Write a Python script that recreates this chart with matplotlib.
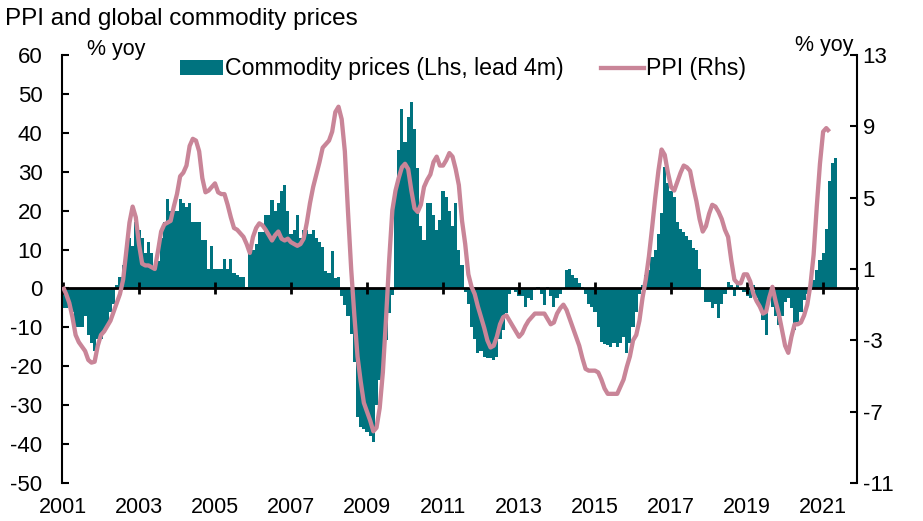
import matplotlib
matplotlib.use("Agg")
import matplotlib.pyplot as plt
from matplotlib.patches import Patch
from matplotlib.lines import Line2D
import numpy as np

plt.rcParams['font.family'] = ['Liberation Sans', 'DejaVu Sans']
plt.rcParams['axes.unicode_minus'] = False

# monthly data, Jan 2001 onward (bars are shifted 4m ahead already)
commodity = [
    -5, -5, -4, -6, -10, -10, -10, -7, -12, -14,
    -16, -13, -13, -11, -10, -6, -4, 1, 3, 6,
    9, 13, 11, 17, 15, 13, 9, 12, 9, 5,
    7, 13, 17, 23, 20, 20, 20, 23, 22, 21,
    22, 17, 17, 17, 12.5, 12.5, 5, 11, 5, 5,
    5, 7.5, 5, 7.5, 4, 3.5, 3, 3, 0.5, 9,
    10, 11.5, 14.5, 14.5, 19, 19, 22.7, 20, 22, 25,
    26.6, 20, 14, 15, 19, 13, 15, 15, 14, 15,
    13, 12, 10.7, 4.5, 4, 9.5, 2.6, 3, -2, -4.3,
    -7, -11.6, -19, -33, -35.5, -36, -37, -38, -39.5, -30,
    -23.5, -20.6, -13.3, -6.4, -1.7, 25, 35.6, 46, 37.7, 44,
    48, 41, 31, 16, 12.4, 22, 22, 19, 15, 17.5,
    25, 23.6, 20, 16, 22, 10, 6, -1, -4, -10,
    -13, -16.7, -16, -17.5, -18, -18, -18.4, -17.5, -13, -10.7,
    -6.4, -1.5, -0.5, -1, -2, -2, -4.7, -2.5, -3, -0.5,
    0.4, -1.3, -4.3, 0.4, -2, -4.7, -2.5, -1.3, 0, 4.7,
    5.1, 3.4, 2.6, 1.3, 0.5, -1.3, -3.9, -4.7, -6, -10,
    -13.7, -14.2, -14.5, -15, -14, -15, -14, -12.5, -16.7, -14,
    -10, -6, -1.3, 1, 3.4, 4.7, 8, 10, 14, 19.3,
    31.3, 27, 25, 23.6, 17, 15.4, 14.5, 13.5, 12.4, 10.3,
    10, 5, 0.5, -3.4, -3.4, -5, -4, -7.7, -4, -1.3,
    1.7, 1.0, -2.0, 1.5, -0.5, -1, -2, -2.5, 1, -2.5,
    -4.7, -8, -12, -2, -4.7, -7, -9.4, -7, -3.5, -2.5,
    -5, -10.7, -8.6, -6, -3, -1.3, 0, 2.1, 4.7, 7.3,
    9, 15.4, 27.5, 32.2, 33.5,
]

ppi = [
    0.0, -0.4, -0.9, -1.7, -2.7, -3.1, -3.35, -3.6, -4.1, -4.25,
    -4.2, -3.3, -2.7, -2.5, -2.2, -1.9, -1.4, -0.9, -0.4, 0.4,
    2.0, 3.6, 4.5, 3.9, 2.4, 1.3, 1.2, 1.2, 1.1, 1.0,
    2.0, 3.1, 3.5, 3.6, 3.7, 4.5, 5.2, 6.2, 6.4, 6.8,
    7.9, 8.3, 8.2, 7.6, 6.1, 5.3, 5.4, 5.6, 5.8, 5.3,
    5.2, 5.2, 4.6, 3.9, 3.3, 3.2, 3.0, 2.8, 2.4, 1.9,
    2.8, 3.3, 3.56, 3.45, 3.2, 2.9, 2.6, 2.9, 3.1, 2.7,
    2.6, 2.7, 2.5, 2.4, 2.3, 2.4, 2.7, 3.6, 4.7, 5.6,
    6.3, 7.0, 7.8, 8.0, 8.2, 8.7, 9.8, 10.1, 9.4, 7.6,
    4.2, 1.0, -1.6, -3.9, -5.3, -6.5, -7.0, -7.5, -8.1, -7.9,
    -6.8, -4.8, -1.8, 1.5, 4.3, 5.4, 6.1, 6.7, 6.9, 6.6,
    5.4, 4.4, 4.2, 4.6, 5.6, 6.0, 6.3, 7.0, 7.3, 6.8,
    6.8, 7.1, 7.5, 7.3, 6.6, 5.7, 3.7, 2.4, 0.7, 0.0,
    -0.4, -1.1, -1.7, -2.3, -3.0, -3.4, -3.3, -2.8, -2.1, -1.7,
    -1.6, -1.9, -2.2, -2.5, -2.8, -2.6, -2.2, -1.9, -1.7, -1.5,
    -1.5, -1.5, -1.5, -1.8, -2.1, -2.0, -1.5, -1.2, -1.0, -1.3,
    -1.8, -2.3, -2.8, -3.3, -4.0, -4.6, -4.7, -4.7, -4.7, -4.8,
    -5.2, -5.7, -6.0, -6.0, -6.0, -6.0, -5.6, -5.2, -4.5, -3.9,
    -3.0, -2.7, -1.9, -0.6, 0.4, 1.7, 3.3, 5.0, 6.5, 7.7,
    7.4, 6.4, 5.6, 5.4, 5.9, 6.4, 6.8, 6.7, 6.5, 5.6,
    4.8, 3.8, 3.1, 3.4, 4.1, 4.6, 4.5, 4.2, 3.8, 3.2,
    2.8, 1.5, 0.4, 0.2, 0.2, 0.7, 0.7, 0.3, -0.4, -0.8,
    -1.1, -1.5, -1.4, -0.6, 0.0, -0.8, -1.5, -2.4, -3.3, -3.7,
    -2.8, -2.1, -2.1, -2.0, -1.6, -1.0, 0.1, 1.8, 4.5, 6.9,
    8.7, 8.9, 8.7,
]

year_labels = [str(y) for y in range(2001, 2022, 2)]
left_ticks = list(range(-50, 61, 10))
right_ticks = list(range(-11, 14, 4))

teal = '#00737f'
pink = '#c98598'

fig = plt.figure(figsize=(9.23, 5.21), dpi=100)
ax = fig.add_axes([62 / 923, 1 - 483 / 521, 795 / 923, 428 / 521])

x_bar = np.arange(len(commodity))
ax.bar(x_bar, commodity, width=1.0, color=teal, linewidth=0)
ax.set_ylim(-50, 60)
ax.set_xlim(-0.3, 250.7)
ax.set_yticks(left_ticks)
ax.tick_params(axis='y', direction='in', length=5, width=1.5, labelsize=16, pad=14)

# x axis sits on zero line, labels at the bottom
ax.spines['bottom'].set_position(('data', 0))
ax.spines['bottom'].set_linewidth(2)
ax.spines['top'].set_visible(False)
ax.spines['right'].set_visible(False)
ax.spines['left'].set_linewidth(1.5)
tick_pos = np.arange(0, 241, 24)
ax.set_xticks(tick_pos)
ax.tick_params(axis='x', direction='inout', length=9, width=2, labelbottom=False)

sec = ax.secondary_xaxis(0.0)
sec.set_xticks(tick_pos)
sec.set_xticklabels(year_labels)
sec.tick_params(length=0, labelsize=15.5, pad=10)
sec.spines['bottom'].set_visible(False)

ax2 = ax.twinx()
ax2.plot(np.arange(len(ppi)), ppi, color=pink, linewidth=3.1, solid_capstyle='butt')
ax2.set_ylim(-11, 13)
ax2.set_yticks(right_ticks)
ax2.tick_params(axis='y', direction='in', length=5, width=1.5, labelsize=16, pad=4)
for s in ['top', 'bottom', 'left']:
    ax2.spines[s].set_visible(False)
ax2.spines['right'].set_linewidth(1.5)

fig.text(5 / 923, 1 - 19 / 521, 'PPI and global commodity prices', fontsize=17.5,
         va='center', ha='left')
fig.text(87 / 923, 1 - 50 / 521, '% yoy', fontsize=15.5, va='center', ha='left')
fig.text(853 / 923, 1 - 45 / 521, '% yoy', fontsize=15.5, va='center', ha='right')

handles = [Patch(facecolor=teal, edgecolor='none'),
           Line2D([0], [0], color=pink, linewidth=3.1)]
ax.legend(handles, ['Commodity prices (Lhs, lead 4m)', 'PPI (Rhs)'],
          loc='center left', bbox_to_anchor=((180 - 62) / 795, 1 - 14 / 428),
          ncol=2, frameon=False, fontsize=16.7, handlelength=1.85, handleheight=0.62,
          handletextpad=0.1, columnspacing=1.6, borderpad=0, borderaxespad=0)

fig.savefig('out.png', dpi=100)
